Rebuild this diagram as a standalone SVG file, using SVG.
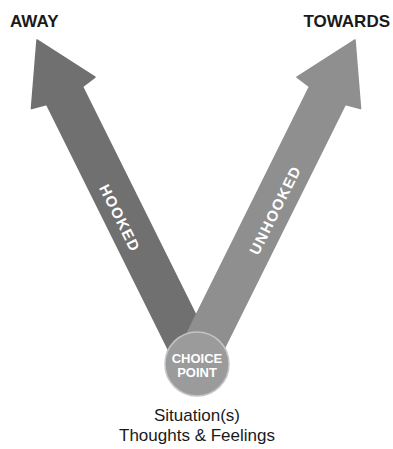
<svg xmlns="http://www.w3.org/2000/svg" width="393" height="449" viewBox="0 0 393 449">
  <style>
    .head { font-family: "Liberation Sans", Arial, sans-serif; font-weight: bold; font-size: 17px; fill: #1a1a1a; }
    .band { font-family: "Liberation Sans", Arial, sans-serif; font-weight: bold; font-size: 15px; letter-spacing: 1.2px; fill: #ffffff; text-anchor: middle; }
    .cp { font-family: "Liberation Sans", Arial, sans-serif; font-weight: bold; font-size: 13px; fill: #ffffff; text-anchor: middle; }
    .sub { font-family: "Liberation Sans", Arial, sans-serif; font-size: 17px; fill: #1a1a1a; text-anchor: middle; }
  </style>
  <defs>
    <!-- upward arrow, tip at origin, shaft running down the +y axis -->
    <path id="arrow" d="M0,0 L35.5,59 L20,62 L20,355 L-20,355 L-20,62 L-35.5,59 Z" stroke-linejoin="round"/>
  </defs>
  <rect width="393" height="449" fill="#ffffff"/>

  <g id="connectors">
    <g id="away-arrow" transform="translate(37,40) rotate(-26.4)">
      <use href="#arrow" fill="#707070" stroke="#707070" stroke-width="1.5"/>
    </g>
    <g id="towards-arrow" transform="translate(355,40) rotate(26.4)">
      <use href="#arrow" fill="#8f8f8f" stroke="#8f8f8f" stroke-width="1.5"/>
    </g>
    <text class="band" transform="translate(120,218) rotate(63.6)" x="0" y="5.5">HOOKED</text>
    <text class="band" transform="translate(275,210) rotate(-63.6)" x="0" y="5.5">UNHOOKED</text>
  </g>

  <g id="away">
    <text class="head" x="10" y="27">AWAY</text>
  </g>
  <g id="towards">
    <text class="head" x="390" y="27" text-anchor="end">TOWARDS</text>
  </g>

  <g id="choice-point">
    <circle cx="197" cy="364" r="32" fill="#9b9b9b" stroke="#c4c4c4" stroke-width="1.5"/>
    <text class="cp" x="197" y="363">CHOICE</text>
    <text class="cp" x="197" y="377">POINT</text>
  </g>

  <g id="situation">
    <text class="sub" x="197" y="421">Situation(s)</text>
    <text class="sub" x="197" y="441">Thoughts &amp; Feelings</text>
  </g>
</svg>
